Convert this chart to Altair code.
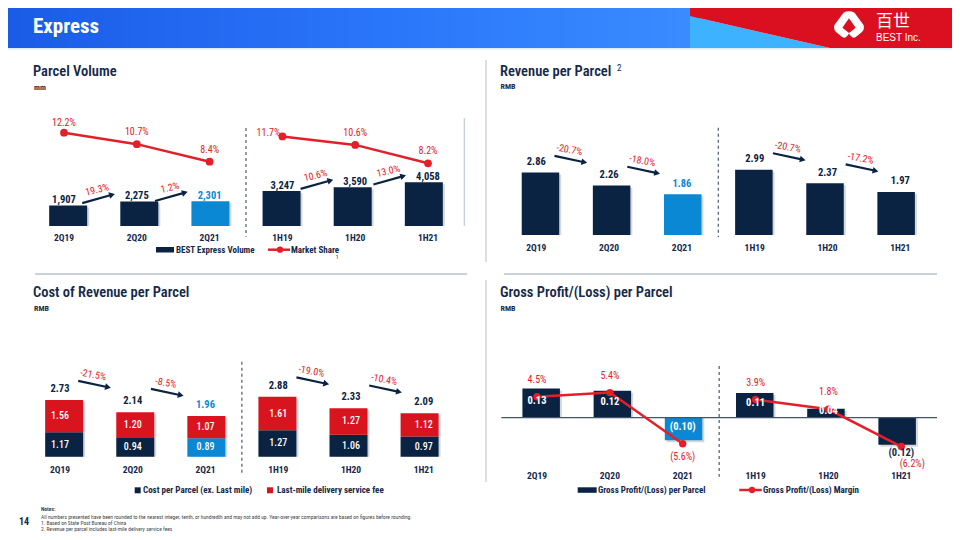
import math
import altair as alt
import pandas as pd

# ---------------- data ----------------
categories = ["2Q19", "2Q20", "2Q21", "1H19", "1H20", "1H21"]
period_group = ["Q", "Q", "Q", "H", "H", "H"]
highlight = "2Q21"

volume = [1907, 2275, 2301, 3247, 3590, 4058]
market_share = [12.2, 10.7, 8.4, 11.7, 10.6, 8.2]
volume_growth = ["19.3%", "1.2%", "10.6%", "13.0%"]

revenue = [2.86, 2.26, 1.86, 2.99, 2.37, 1.97]
revenue_growth = ["-20.7%", "-18.0%", "-20.7%", "-17.2%"]

cost_ex_last_mile = [1.17, 0.94, 0.89, 1.27, 1.06, 0.97]
last_mile_fee = [1.56, 1.20, 1.07, 1.61, 1.27, 1.12]
cost_growth = ["-21.5%", "-8.5%", "-19.0%", "-10.4%"]

gross_profit = [0.13, 0.12, -0.10, 0.11, 0.04, -0.12]
gross_margin = [4.5, 5.4, -5.6, 3.9, 1.8, -6.2]

arrow_pairs = [(0, 1), (1, 2), (3, 4), (4, 5)]

notes = [
    "All numbers presented have been rounded to the nearest integer, tenth, or hundredth and may not add up. Year-over-year comparisons are based on figures before rounding.",
    "1. Based on State Post Bureau of China",
    "2. Revenue per parcel includes last-mile delivery service fees",
]

# ---------------- style ----------------
NAVY = "#0B2343"
BLUE = "#0A88D4"
RED = "#E3202A"
RED_BAR = "#D8141F"
TXT = "#15294A"
LINE_GRAY = "#BAC2CC"
SHADOW = "#D3D8DE"
FONT = "Roboto Condensed, Liberation Sans Narrow, Arial Narrow, DejaVu Sans Condensed, Roboto, sans-serif"
CJK = "Noto Sans CJK SC"


def lin(domain, rng):
    return alt.Scale(domain=domain, range=rng, nice=False, zero=False)


# page (slide) coordinate scales for decorations
PX = lin([0, 960], [-8, 952])
PY = lin([0, 540], [-8, 532])

PANELS = {
    "vol": dict(x0=64.0, step=72.8, base=226.0),
    "rev": dict(x0=536.3, step=72.8, base=235.0),
    "cost": dict(x0=60.0, step=72.75, base=456.7),
    "gp": dict(x0=537.0, step=72.86, base=417.7),
}


def xscale(p):
    return lin([-0.5, 5.5], [p["x0"] - 0.5 * p["step"] - 8, p["x0"] + 5.5 * p["step"] - 8])


def yscale(p, k, lo, hi):
    return lin([lo, hi], [p["base"] - 8 - lo * k, p["base"] - 8 - hi * k])


L = []


def enc_xy(sx, sy, x="x", y="y", **extra):
    d = dict(x=alt.X(f"{x}:Q", scale=sx, axis=None),
             y=alt.Y(f"{y}:Q", scale=sy, axis=None, stack=None))
    d.update(extra)
    return d


def text(df, sx, sy, size, color=TXT, weight="normal", align="center",
         baseline="middle", dx=0, dy=0, font=FONT, by_color=False, by_angle=False):
    extra = {"text": alt.Text("t:N")}
    if by_color:
        extra["color"] = alt.Color("c:N", scale=None)
    if by_angle:
        extra["angle"] = alt.Angle("a:Q", scale=None)
    return alt.Chart(df).mark_text(
        font=font, fontSize=size, fontWeight=weight, color=color, align=align,
        baseline=baseline, dx=dx, dy=dy).encode(**enc_xy(sx, sy, **extra))


def seg(df, sx, sy, color, width=1.0, dash=None):
    kw = dict(color=color, strokeWidth=width)
    if dash:
        kw["strokeDash"] = dash
    return alt.Chart(df).mark_rule(**kw).encode(
        **enc_xy(sx, sy, x2=alt.X2("x2:Q"), y2=alt.Y2("y2:Q")))


def bar_color(c):
    return BLUE if c == highlight else NAVY


def arrows(p, sx, sy, k, values, labels, off, h):
    rows = []
    for (a, b), lab in zip(arrow_pairs, labels):
        ta, tb = values[a] * k, values[b] * k
        mid = (ta + tb) / 2 + off
        sgn = -1 if lab.startswith("-") else 1
        y1, y2 = mid - sgn * h, mid + sgn * h
        x1, x2 = a + 0.25, a + 0.66
        dxp = (x2 - x1) * p["step"]
        ang = math.degrees(math.atan2(-(y2 - y1), dxp))
        rows.append(dict(x=x1, x2=x2, y=y1 / k, y2=y2 / k,
                         xm=(x1 + x2) / 2, ym=((y1 + y2) / 2 + 9) / k,
                         t=lab, a=ang % 360, la=(0.85 * ang) % 360))
    df = pd.DataFrame(rows)
    out = [
        seg(df, sx, sy, NAVY, 2.2),
        alt.Chart(df).mark_point(shape="triangle-right", filled=True, size=45,
                                 color=NAVY, opacity=1).encode(
            **enc_xy(sx, sy, x="x2", y="y2", angle=alt.Angle("a:Q", scale=None))),
        alt.Chart(df.assign(x=df.xm, y=df.ym)).mark_text(
            font=FONT, fontSize=10, color=RED).encode(
            **enc_xy(sx, sy, text=alt.Text("t:N"), angle=alt.Angle("la:Q", scale=None))),
    ]
    return out


def category_labels(sx, ypage):
    df = pd.DataFrame({"x": list(range(6)), "y": [ypage] * 6, "t": categories})
    return alt.Chart(df).mark_text(font=FONT, fontSize=9.5, fontWeight="bold", color=TXT).encode(
        x=alt.X("x:Q", scale=sx, axis=None), y=alt.Y("y:Q", scale=PY, axis=None), text="t:N")


def divider(sx, y0, y1):
    df = pd.DataFrame({"x": [2.5], "y": [y0], "y2": [y1]})
    return alt.Chart(df).mark_rule(color="#4A5A72", strokeWidth=1.2, strokeDash=[3, 3]).encode(
        x=alt.X("x:Q", scale=sx, axis=None), y=alt.Y("y:Q", scale=PY, axis=None), y2="y2:Q")


# ---------------- banner ----------------
grad = alt.Gradient(
    gradient="linear",
    stops=[alt.GradientStop(color="#1A5BE6", offset=0),
           alt.GradientStop(color="#2A76FA", offset=0.55),
           alt.GradientStop(color="#3A8CFF", offset=1)],
    x1=0, x2=1, y1=0, y2=0)
L.append(alt.Chart(pd.DataFrame({"x": [0], "x2": [700], "y": [0], "y2": [48]})).mark_rect(fill=grad).encode(
    **enc_xy(PX, PY, x2=alt.X2("x2:Q"), y2=alt.Y2("y2:Q"))))
L.append(alt.Chart(pd.DataFrame({"x": [690, 830], "y": [16, 48], "y2": [48, 48]})).mark_area(color="#3DB2FF").encode(
    **enc_xy(PX, PY, y2=alt.Y2("y2:Q"))))
L.append(alt.Chart(pd.DataFrame({"x": [690, 830, 960], "y": [0, 0, 0], "y2": [16, 48, 48]})).mark_area(color="#DA1020").encode(
    **enc_xy(PX, PY, y2=alt.Y2("y2:Q"))))
L.append(seg(pd.DataFrame({"x": [0], "x2": [960], "y": [48.8], "y2": [48.8]}), PX, PY, "#D6E4F5", 1.2))
logo_path = ("M -0.35 -0.78 Q 0 -0.95 0.35 -0.78 L 0.92 0.0 Q 1 0.25 0.82 0.45 L 0.45 0.75 "
             "Q 0.25 0.88 0.12 0.7 L 0 0.55 L -0.12 0.7 Q -0.25 0.88 -0.45 0.75 L -0.82 0.45 "
             "Q -1 0.25 -0.92 0.0 Z")
inner_path = "M 0 -0.42 L 0.42 0.18 L 0 0.5 L -0.42 0.18 Z"
L.append(alt.Chart(pd.DataFrame({"x": [849], "y": [25]})).mark_point(
    shape=logo_path, filled=True, size=1000, color="white", opacity=1).encode(**enc_xy(PX, PY)))
L.append(alt.Chart(pd.DataFrame({"x": [849], "y": [25]})).mark_point(
    shape=inner_path, filled=True, size=1000, color="#DA1020", opacity=1).encode(**enc_xy(PX, PY)))
L.append(text(pd.DataFrame({"x": [876], "y": [26.5], "t": ["百世"]}), PX, PY, 17, color="white",
              align="left", baseline="alphabetic", font=CJK))
L.append(text(pd.DataFrame({"x": [876], "y": [37.5], "t": ["BEST Inc."]}), PX, PY, 10, color="white",
              align="left", font="Liberation Sans, Arial, sans-serif"))
L.append(text(pd.DataFrame({"x": [33], "y": [27], "t": ["Express"]}), PX, PY, 21, color="white",
              weight="bold", align="left"))

# ---------------- titles ----------------
titles = pd.DataFrame({"x": [33, 500, 33, 500], "y": [72, 72, 293, 293],
                       "t": ["Parcel Volume", "Revenue per Parcel", "Cost of Revenue per Parcel",
                             "Gross Profit/(Loss) per Parcel"]})
L.append(text(titles, PX, PY, 14.5, weight=600, align="left"))
L.append(text(pd.DataFrame({"x": [617], "y": [67.5], "t": ["2"]}), PX, PY, 9, align="left"))
subs = pd.DataFrame({"x": [34, 500.5, 34, 500.5], "y": [87.5, 87, 309, 309],
                     "t": ["mm", "RMB", "RMB", "RMB"]})
L.append(text(subs, PX, PY, 8, color="#1E2B40", weight="bold", align="left"))

# ---------------- separators ----------------
L.append(seg(pd.DataFrame({"x": [35, 504], "x2": [467, 937], "y": [274, 274], "y2": [274, 274]}),
             PX, PY, LINE_GRAY, 1.5))
L.append(seg(pd.DataFrame({"x": [486, 486, 464.3], "x2": [486, 486, 464.3],
                           "y": [60, 280, 118], "y2": [262, 482, 226]}), PX, PY, "#C3CAD2", 1.2))

# ---------------- panel 1: parcel volume ----------------
p = PANELS["vol"]
sx = xscale(p)
kv, ks = 0.01078, 7.65
sy = yscale(p, kv, 0, 5000)
sys_ = yscale(p, ks, 0, 15)
d1 = pd.DataFrame({"x": range(6), "y": volume, "z": 0, "g": period_group,
                   "c": [bar_color(c) for c in categories],
                   "t": [f"{v:,}" for v in volume]})
L.append(alt.Chart(d1).mark_bar(size=38, color=SHADOW, xOffset=2, yOffset=2).encode(
    **enc_xy(sx, sy, y2=alt.Y2("z:Q"))))
L.append(alt.Chart(d1).mark_bar(size=38).encode(
    **enc_xy(sx, sy, y2=alt.Y2("z:Q"), color=alt.Color("c:N", scale=None))))
L.append(text(d1, sx, sy, 10.5, weight="bold", dy=-5, by_color=True))
L.extend(arrows(p, sx, sy, kv, volume, volume_growth, 4.5, 4.2))
share_offsets = {0: (0, -9.5), 3: (-14, -3)}
d1s = pd.DataFrame({"x": range(6), "y": market_share, "g": period_group})
d1l = pd.DataFrame({
    "x": [i + share_offsets.get(i, (0, -12))[0] / p["step"] for i in range(6)],
    "y": [s - share_offsets.get(i, (0, -12))[1] / ks for i, s in enumerate(market_share)],
    "t": [f"{s:.1f}%" for s in market_share]})
L.append(text(d1l, sx, sys_, 10, color=RED))
L.append(alt.Chart(d1s).mark_line(color=RED, strokeWidth=2.5).encode(
    **enc_xy(sx, sys_, detail=alt.Detail("g:N"))))
L.append(alt.Chart(d1s).mark_point(shape="circle", filled=True, size=60, color=RED, opacity=1).encode(
    **enc_xy(sx, sys_)))
L.append(category_labels(sx, 238))
L.append(divider(sx, 128, 236.7))

# ---------------- panel 2: revenue per parcel ----------------
p = PANELS["rev"]
sx = xscale(p)
kr = 21.85
sy = yscale(p, kr, 0, 4)
d2 = pd.DataFrame({"x": range(6), "y": revenue, "z": 0,
                   "c": [bar_color(c) for c in categories],
                   "t": [f"{v:.2f}" for v in revenue]})
L.append(alt.Chart(d2).mark_bar(size=37.5, color=SHADOW, xOffset=2, yOffset=2).encode(
    **enc_xy(sx, sy, y2=alt.Y2("z:Q"))))
L.append(alt.Chart(d2).mark_bar(size=37.5).encode(
    **enc_xy(sx, sy, y2=alt.Y2("z:Q"), color=alt.Color("c:N", scale=None))))
L.append(text(d2, sx, sy, 10.5, weight="bold", dy=-10.5, by_color=True))
L.extend(arrows(p, sx, sy, kr, revenue, revenue_growth, 20, 3.2))
L.append(category_labels(sx, 247.7))
L.append(divider(sx, 127.7, 237.3))

# ---------------- panel 3: cost of revenue per parcel ----------------
p = PANELS["cost"]
sx = xscale(p)
kc = 20.8
sy = yscale(p, kc, 0, 4)
cost_total = [round(a + b, 2) for a, b in zip(cost_ex_last_mile, last_mile_fee)]
d3b = pd.DataFrame({"x": range(6), "y": cost_ex_last_mile, "z": 0,
                    "c": [bar_color(c) for c in categories]})
d3r = pd.DataFrame({"x": range(6), "y": cost_total, "z": cost_ex_last_mile})
L.append(alt.Chart(pd.DataFrame({"x": range(6), "y": cost_total, "z": 0})).mark_bar(
    size=38, color=SHADOW, xOffset=2, yOffset=2).encode(**enc_xy(sx, sy, y2=alt.Y2("z:Q"))))
L.append(alt.Chart(d3b).mark_bar(size=38).encode(
    **enc_xy(sx, sy, y2=alt.Y2("z:Q"), color=alt.Color("c:N", scale=None))))
L.append(alt.Chart(d3r).mark_bar(size=38, color=RED_BAR).encode(**enc_xy(sx, sy, y2=alt.Y2("z:Q"))))
seglab = pd.DataFrame({
    "x": list(range(6)) * 2,
    "y": [v / 2 for v in cost_ex_last_mile] + [a + b / 2 for a, b in zip(cost_ex_last_mile, last_mile_fee)],
    "t": [f"{v:.2f}" for v in cost_ex_last_mile] + [f"{v:.2f}" for v in last_mile_fee]})
L.append(text(seglab, sx, sy, 10, color="white", weight=500))
d3t = pd.DataFrame({"x": range(6), "y": cost_total, "c": [bar_color(c) for c in categories],
                    "t": [f"{v:.2f}" for v in cost_total]})
L.append(text(d3t, sx, sy, 10.5, weight="bold", dy=-11, by_color=True))
L.extend(arrows(p, sx, sy, kc, cost_total, cost_growth, 22, 3.2))
L.append(category_labels(sx, 470))
L.append(divider(sx, 361.7, 472.7))

# ---------------- panel 4: gross profit per parcel ----------------
p = PANELS["gp"]
sx = xscale(p)
kg, km = 225.0, 4.65
sy = yscale(p, kg, -0.2, 0.2)
sym = yscale(p, km, -10, 10)
d4 = pd.DataFrame({"x": range(6), "y": gross_profit, "z": 0,
                   "c": [bar_color(c) for c in categories]})
L.append(alt.Chart(d4).mark_bar(size=37.5, color=SHADOW, xOffset=2, yOffset=2).encode(
    **enc_xy(sx, sy, y2=alt.Y2("z:Q"))))
L.append(alt.Chart(d4).mark_bar(size=37.5).encode(
    **enc_xy(sx, sy, y2=alt.Y2("z:Q"), color=alt.Color("c:N", scale=None))))
L.append(seg(pd.DataFrame({"x": [-0.49], "x2": [5.49], "y": [0], "y2": [0]}), sx, sy, "#44546A", 1.3))


def paren(v, fmt):
    return fmt.format(v) if v >= 0 else "(" + fmt.format(abs(v)) + ")"


margin_offsets = {5: (11, 17)}
d4m = pd.DataFrame({
    "x": [i + margin_offsets.get(i, (0, 0))[0] / p["step"] for i in range(6)],
    "y": [m - margin_offsets[i][1] / km if i in margin_offsets else
          (m + 17 / km if m >= 0 else m - 13 / km) for i, m in enumerate(gross_margin)],
    "t": [paren(m, "{:.1f}%") for m in gross_margin]})
L.append(text(d4m, sx, sym, 10, color=RED))
d4s = pd.DataFrame({"x": range(6), "y": gross_margin, "g": period_group})
L.append(alt.Chart(d4s).mark_line(color=RED, strokeWidth=2.5).encode(
    **enc_xy(sx, sym, detail=alt.Detail("g:N"))))
L.append(alt.Chart(d4s).mark_point(shape="circle", filled=True, size=55, color=RED, opacity=1).encode(
    **enc_xy(sx, sym)))
outside = {5}
d4l = pd.DataFrame({
    "x": range(6),
    "y": [(v - 8.5 / kg) if i in outside else (v / 2 + 2 / kg) for i, v in enumerate(gross_profit)],
    "c": [TXT if i in outside else "white" for i in range(6)],
    "t": [paren(v, "{:.2f}") for v in gross_profit]})
L.append(text(d4l, sx, sy, 10.5, weight="bold", by_color=True))
L.append(category_labels(sx, 476))
L.append(divider(sx, 366, 476.7))

# ---------------- legends ----------------
leg_rects = pd.DataFrame({"x": [156, 577.7, 134.7], "x2": [174, 596.7, 140.7],
                          "y": [247, 487.3, 487.3], "y2": [252.5, 492.8, 493.3]})
L.append(alt.Chart(leg_rects).mark_rect(color=NAVY).encode(
    **enc_xy(PX, PY, x2=alt.X2("x2:Q"), y2=alt.Y2("y2:Q"))))
L.append(alt.Chart(pd.DataFrame({"x": [267], "x2": [273], "y": [487.3], "y2": [493.3]})).mark_rect(
    color=RED_BAR).encode(**enc_xy(PX, PY, x2=alt.X2("x2:Q"), y2=alt.Y2("y2:Q"))))
L.append(seg(pd.DataFrame({"x": [268, 739.3], "x2": [290, 761.7], "y": [249.7, 490], "y2": [249.7, 490]}),
             PX, PY, RED, 2.5))
L.append(alt.Chart(pd.DataFrame({"x": [280, 752], "y": [249.7, 490]})).mark_point(
    shape="circle", filled=True, size=40, color=RED, opacity=1).encode(**enc_xy(PX, PY)))
leg_text = pd.DataFrame({"x": [176, 291, 143, 277, 598, 763],
                         "y": [249.7, 249.7, 490.3, 490.3, 490, 490],
                         "t": ["BEST Express Volume", "Market Share", "Cost per Parcel (ex. Last mile)",
                               "Last-mile delivery service fee", "Gross Profit/(Loss) per Parcel",
                               "Gross Profit/(Loss) Margin"]})
L.append(text(leg_text, PX, PY, 9, weight="bold", align="left"))
L.append(text(pd.DataFrame({"x": [337], "y": [257], "t": ["1"]}), PX, PY, 5.5))

# ---------------- footer ----------------
L.append(text(pd.DataFrame({"x": [24], "y": [522], "t": ["14"]}), PX, PY, 10, weight="bold"))
L.append(text(pd.DataFrame({"x": [41], "y": [508.5], "t": ["Notes:"]}), PX, PY, 5.5, color="#444444",
              weight="bold", align="left"))
L.append(text(pd.DataFrame({"x": [41, 41, 41], "y": [516.5, 523, 529.3], "t": notes}), PX, PY, 5.5,
              color="#444444", align="left"))

chart = alt.layer(*L).resolve_scale(x="independent", y="independent").properties(
    width=944, height=524, padding=0, background="white",
    autosize=alt.AutoSizeParams(type="none")
).configure_view(stroke=None)

chart.save("out.html", embed_options={"renderer": "svg", "actions": False})
